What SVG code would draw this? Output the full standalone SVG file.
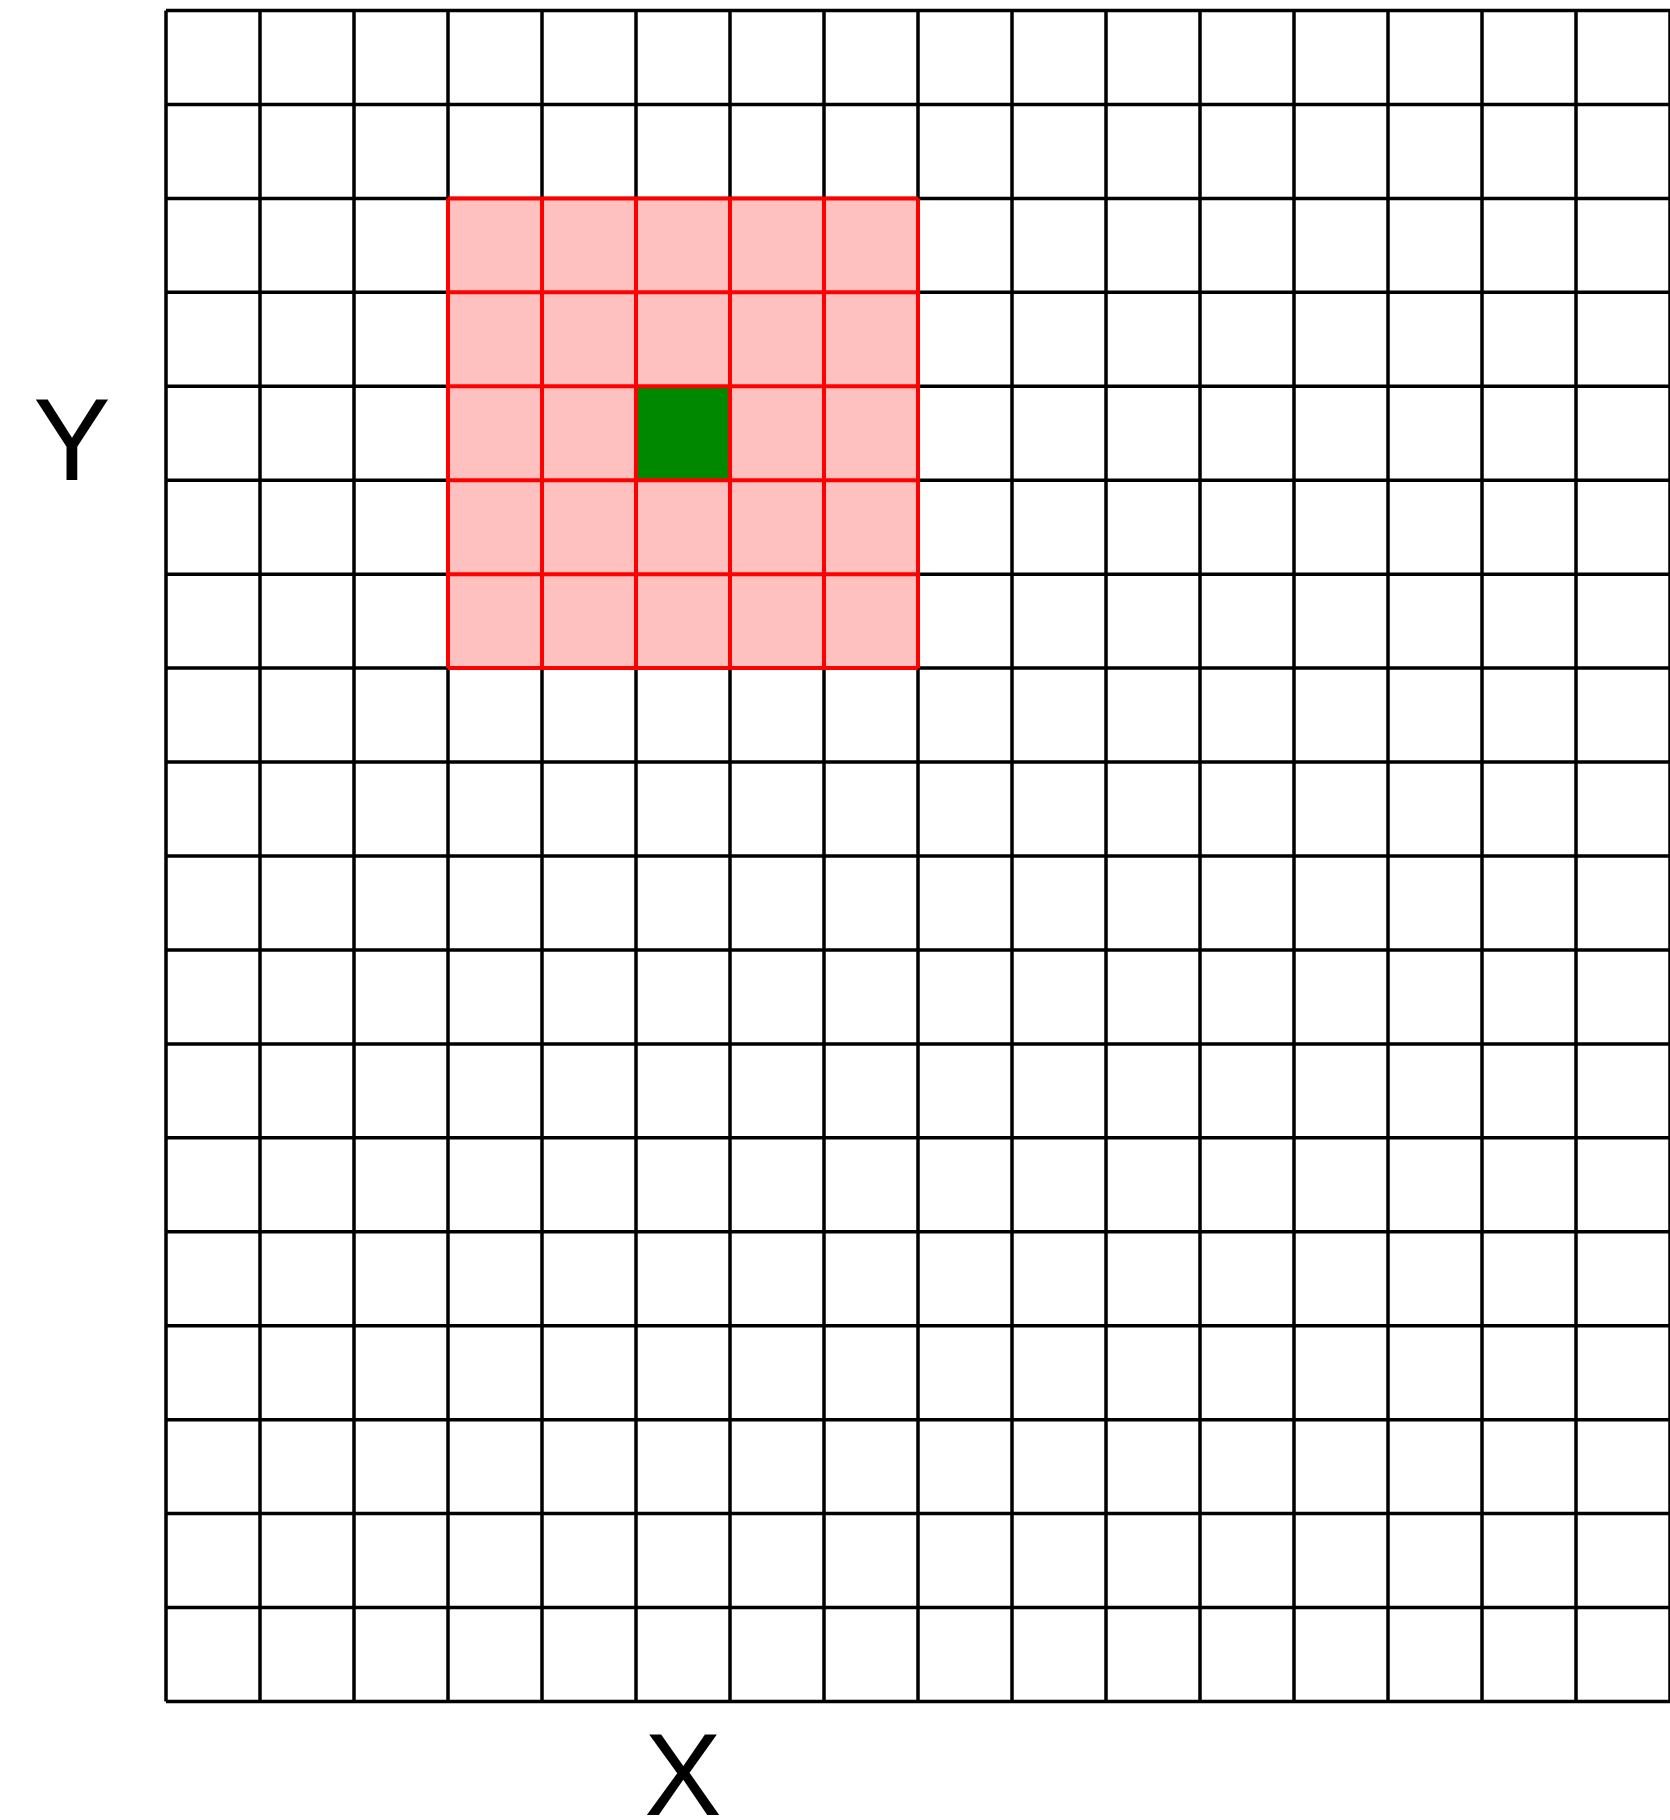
<svg xmlns="http://www.w3.org/2000/svg" width="1670" height="1820" viewBox="0 0 1670 1820">
<style>
.g{stroke:#000;stroke-width:3.5;fill:none}
.r{stroke:#ff0000;stroke-width:4;fill:none}
.lbl{font-family:"Liberation Sans",Arial,sans-serif;font-size:116px;fill:#000}
</style>
<rect width="1670" height="1820" fill="#fff"/>
<g id="grid" class="g">
<path d="M166,10.5V1701.5M260,10.5V1701.5M354,10.5V1701.5M448,10.5V1701.5M542,10.5V1701.5M636,10.5V1701.5M730,10.5V1701.5M824,10.5V1701.5M918,10.5V1701.5M1012,10.5V1701.5M1106,10.5V1701.5M1200,10.5V1701.5M1294,10.5V1701.5M1388,10.5V1701.5M1482,10.5V1701.5M1576,10.5V1701.5M1670,10.5V1701.5"/>
<path d="M166,10.5H1670M166,104.4H1670M166,198.4H1670M166,292.3H1670M166,386.3H1670M166,480.2H1670M166,574.2H1670M166,668.1H1670M166,762.1H1670M166,856H1670M166,949.9H1670M166,1043.9H1670M166,1137.8H1670M166,1231.8H1670M166,1325.7H1670M166,1419.7H1670M166,1513.6H1670M166,1607.6H1670M166,1701.5H1670"/>
</g>
<g id="window">
<rect x="448" y="198.4" width="470" height="469.7" fill="#ffc0c0"/>
<rect x="636" y="386.3" width="94" height="93.9" fill="#008800"/>
<path class="r" d="M448,198.4V668.1M542,198.4V668.1M636,198.4V668.1M730,198.4V668.1M824,198.4V668.1M918,198.4V668.1M448,198.4H918M448,292.3H918M448,386.3H918M448,480.2H918M448,574.2H918M448,668.1H918"/>
</g>
<g id="labels">
<text class="lbl" x="72" y="480" text-anchor="middle">Y</text>
<text class="lbl" x="683" y="1815" text-anchor="middle">X</text>
</g>
</svg>
